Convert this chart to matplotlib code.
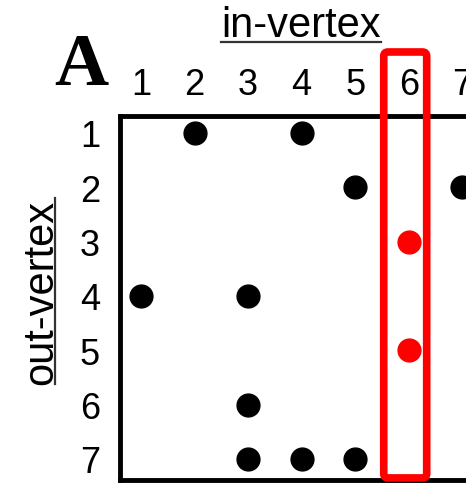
import numpy as np
import matplotlib
matplotlib.use("Agg")
import matplotlib.pyplot as plt
from matplotlib.patches import FancyBboxPatch
from matplotlib.lines import Line2D

plt.rcParams['font.family'] = ['Liberation Sans', 'DejaVu Sans']

# adjacency entries (out-vertex row, in-vertex column)
vertices = [1, 2, 3, 4, 5, 6, 7]
out_v = [1, 1, 2, 2, 4, 4, 6, 7, 7, 7]
in_v = [2, 4, 5, 7, 1, 3, 3, 3, 4, 5]
# highlighted entries in column 6
hl_out = [3, 5]
hl_in = [6, 6]
hl_col = 6

W, H = 466, 485
fig = plt.figure(figsize=(W / 100, H / 100), dpi=100)
ax = fig.add_axes([119.5 / W, 1 - 481 / H, 1 - 119.5 / W, (481 - 116.5) / H])

ax.scatter(in_v, out_v, s=270, color='black', zorder=3, clip_on=False)
ax.scatter(hl_in, hl_out, s=270, color='#ff0000', zorder=3, clip_on=False)

ax.set_xlim(0.599, 7.07)
ax.set_ylim(7.387, 0.678)

ax.set_xticks(vertices)
ax.set_yticks(vertices)
ax.xaxis.tick_top()
ax.tick_params(axis='both', length=0, labelsize=26)
ax.tick_params(axis='x', pad=10)
ax.tick_params(axis='y', pad=14)

for side in ['left', 'top', 'bottom']:
    ax.spines[side].set_linewidth(3.5)
ax.spines['right'].set_visible(False)

# red highlight box around column 6
box = FancyBboxPatch((hl_col - 0.466, -0.491), 0.802, 7.84,
                     boxstyle="round,pad=0,rounding_size=0.08",
                     fill=False, edgecolor='#ff0000', linewidth=5.5,
                     clip_on=False, zorder=4)
ax.add_patch(box)

t_in = fig.text(301 / W, 1 - 37 / H, 'in-vertex', fontsize=30,
                ha='center', va='baseline')
t_out = fig.text(52 / W, 1 - 292 / H, 'out-vertex', fontsize=30,
                 ha='center', va='baseline', rotation=90, rotation_mode='anchor')
fig.text(81 / W, 1 - 67 / H, 'A', fontsize=54, fontweight='bold',
         family='Liberation Serif', ha='center', va='center')

# underlines
fig.canvas.draw()
r = fig.canvas.get_renderer()
bb = t_in.get_window_extent(r)
fig.add_artist(Line2D([bb.x0 / W, bb.x1 / W], [1 - 43 / H, 1 - 43 / H],
                      color='#333333', linewidth=1.6, transform=fig.transFigure))
bb = t_out.get_window_extent(r)
fig.add_artist(Line2D([55 / W, 55 / W], [bb.y0 / H, bb.y1 / H],
                      color='#333333', linewidth=1.6, transform=fig.transFigure))

fig.savefig('out.png', dpi=100)
